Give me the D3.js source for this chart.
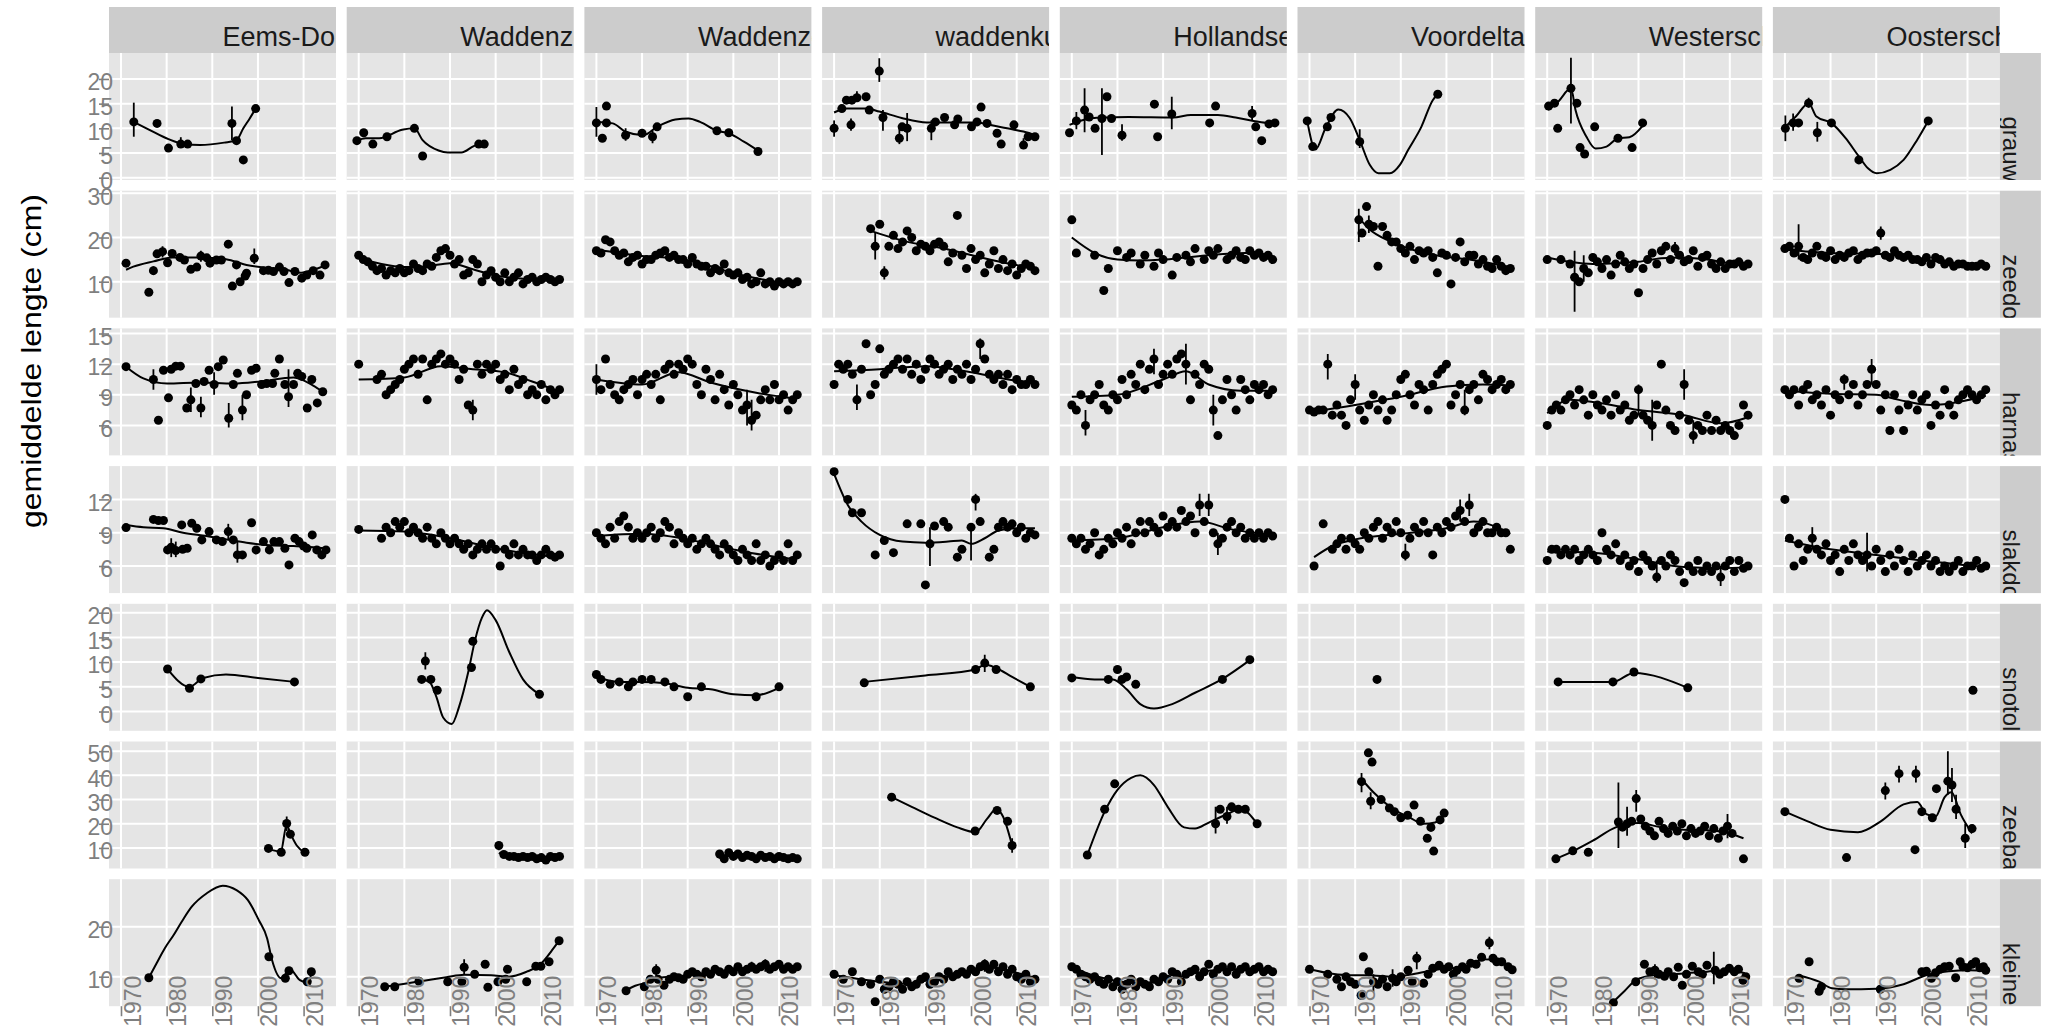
<!DOCTYPE html>
<html>
<head>
<meta charset="utf-8">
<script src="https://cdn.jsdelivr.net/npm/d3@7"></script>
<style>
body { margin: 0; background: #fff; }
text { font-family: "Liberation Sans", Arial, sans-serif; }
</style>
</head>
<body>
<script>

var regions = ["Eems-Dollard", "Waddenzee west", "Waddenzee oost", "waddenkust", "Hollandse kust", "Voordelta", "Westerschelde", "Oosterschelde"];
var species = ["grauwe poon", "zeedonderpad", "harnasmannetje", "slakdolf", "snotolf", "zeebaars", "kleine pieterman"];
var xTicks = [1970, 1980, 1990, 2000, 2010];
var xDomain = [1967.37, 2017.1];
var yTicks = [[0,5,10,15,20], [10,20,30], [6,9,12,15], [6,9,12], [0,5,10,15,20], [10,20,30,40,50], [10,20]];
var yDomains = [[-0.47,25.26], [1.85,30.6], [3.06,15.5], [3.56,15.0], [-3.9,21.8], [1.5,54], [4.1,29.5]];

// one value per year from start, null = no survey that year
function yearly(start, vals) {
    return vals.map(function(v, i) { return [start + i, v]; })
               .filter(function(d) { return d[1] !== null; });
}

// ---- grauwe poon
var grauwPts = [
 [[1972.8,11.3],[1977.9,11],[1980.4,6],[1983.1,6.8],[1984.6,6.8],[1994.3,11],[1995.3,7.5],[1996.8,3.6],[1999.5,14]],
 [[1969.6,7.5],[1971.1,9.1],[1973.1,6.8],[1976.2,8.3],[1982.2,10],[1984,4.4],[1996.3,6.8],[1997.5,6.8]],
 [[1970,11.1],[1971.3,8],[1972.2,14.5],[1972.2,11.1],[1976.4,8.6],[1980,9],[1982.3,8.3],[1983.3,10.3],[1996.4,9.5],[1999,9.1],[2005.4,5.3]],
 [[1970,10],[1971.7,14],[1972.7,15.7],[1973.7,10.7],[1973.9,15.7],[1975,16.2],[1977,16.4],[1977.7,13.7],[1979.9,21.6],[1980.7,12.2],[1984.3,8],[1984.9,10.3],[1986,10],[1991.3,10],[1992.2,11.3],[1994.2,12.2],[1996.4,10.7],[1997.1,11.9],[2000.1,10.3],[2001.3,11.3],[2002.2,14.3],[2003.5,11],[2005.7,9],[2006.6,6.8],[2009.4,10.7],[2011.5,6.6],[2012.5,8.3],[2014,8.3]],
 [[1969.5,9.1],[1971,11.5],[1972.8,13.7],[1973.8,12.3],[1975.1,10],[1976.6,12],[1977.7,16.4],[1978.7,12],[1981,8.6],[1988.1,14.9],[1988.8,8.3],[1991.9,12.9],[2000.2,11.1],[2001.5,14.5],[2009.5,13],[2010.3,10.3],[2011.6,7.5],[2013.2,10.9],[2014.5,11.1]],
 [[1969.5,11.5],[1970.7,6.3],[1973.9,10.3],[1974.7,12.2],[1981,7.3],[1998.1,16.9]],
 [[1970.3,14.5],[1971.6,15.1],[1972.3,10],[1975.2,18.1],[1976.5,15.1],[1977.2,6.1],[1978.2,4.8],[1980.4,10.3],[1985.5,8],[1988.6,6.1],[1990.9,11.1]],
 [[1970.1,10],[1971.8,11.1],[1973,11.1],[1975.2,15.1],[1977.1,9.1],[1980.2,11.1],[1986.2,3.6],[2001.4,11.5]]
];
var grauwErr = [
 [[1972.8,8.3,15.2],[1983.1,6.5,8.2],[1994.3,7.6,14.4]],
 [],
 [[1970,8.3,14.3],[1976.4,7.5,10],[1982.3,7,9.5]],
 [[1970,8.3,11.6],[1973.7,9.5,12],[1975,15.5,17.5],[1979.9,19.4,24.2],[1980.7,9.5,13.7],[1984.3,6.8,10],[1986,7.4,13.1],[1991.3,7.6,11.6],[2011.5,5.8,8]],
 [[1971,9.8,13.3],[1972.8,9.2,18.1],[1976.6,4.6,18.1],[1981,7.5,10.8],[1991.9,9.8,16.4],[2009.5,11.5,14.5]],
 [[1981,6,9.8]],
 [[1975.2,11,24.3]],
 [[1970.1,7.4,12.6],[1971.8,9.5,13],[1975.2,14.2,16.2],[1977.1,7.3,11.3]]
];
var grauwFit = [
 [[1972.8,11.3],[1976,9.8],[1980.4,7.8],[1983.8,6.8],[1987.3,6.6],[1992.6,7.1],[1995.3,7.6],[1996.8,10],[1998.2,12],[1999.5,14]],
 [[1969.6,7.5],[1971.5,8],[1974.5,8],[1979.5,9.7],[1982.2,10],[1984,7.6],[1987.5,5.5],[1989.5,5.1],[1992.5,5.1],[1995.2,6.4],[1997.5,7.2]],
 [[1970,11.3],[1973.6,11],[1976.4,9.3],[1980.3,8.6],[1983.3,10.3],[1987.3,11.8],[1990.2,12],[1992.7,11.3],[1996.4,9.5],[1999,9],[2002.3,7.3],[2005.4,5.5]],
 [[1970,13.2],[1972.8,14],[1977,14],[1979.9,13.4],[1984.8,12.1],[1990.3,11.2],[1995.8,11.2],[2001.2,11.2],[2005.1,10.5],[2009,9.8],[2012.5,9.1],[2014,8.6]],
 [[1969.5,10.7],[1972.5,11.7],[1976.6,12.2],[1982.4,12.3],[1992.2,12.2],[1996.1,12.7],[2002,12.7],[2005.9,12.2],[2009.8,11.5],[2014.5,10.9]],
 [[1969.5,11.5],[1971.3,5.7],[1973.5,10],[1976.3,13.8],[1978.8,12.1],[1981,7.6],[1983.2,2.6],[1985.1,0.9],[1987.6,0.9],[1989.8,2.6],[1991.6,5.6],[1994.5,10.3],[1997,15.7],[1998.1,16.9]],
 [[1970.2,13.7],[1972.5,15.5],[1975.2,18.1],[1976.2,13.7],[1978.6,8.3],[1980.6,5.9],[1983,6.3],[1985.5,8],[1988,8.2],[1990.9,10.5]],
 [[1970.1,10.3],[1972.5,12.5],[1975.2,15.1],[1976.9,12.4],[1980.3,11],[1983.3,8],[1986.2,4.3],[1988.2,1.9],[1990.1,0.9],[1993.1,1.6],[1996,3.6],[1999,7.7],[2001.4,11.5]]
];

// ---- zeedonderpad
var zeedoPts = [
 [[1971.1,14.2],[1976.1,7.6],[1977.1,12.5],[1977.9,16.3],[1979.1,16.8],[1980.2,14.3],[1981.2,16.4],[1982.9,15.5],[1983.9,14.9],[1985.3,12.8],[1986.6,13.3],[1987.5,15.8],[1988.8,15.4],[1989.5,14.2],[1990.9,14.9],[1992,14.9],[1993.5,18.5],[1994.4,9],[1995.3,13.8],[1996.1,10],[1997.2,11.3],[1997.5,11.9],[1999.2,15.3],[2001.2,12.5],[2002.3,12.6],[2003.4,12.3],[2004.7,13.3],[2005.7,12.3],[2006.8,9.8],[2008.1,12.3],[2009.6,10.8],[2010.7,11.5],[2012.1,12.5],[2013.6,11.5],[2014.7,13.8]],
 yearly(1970, [16,15,14.5,13.5,12.5,13,11.5,12.5,12,13, 12,12.5,14,13,12.5,14,13.5,15.5,17,17.5, 16,14,15,11.5,12,15,14,10,11.5,12.5, 11,10,12,10,11,12,9.5,10.5,11,10, 10.5,11,10.5,10,10.5]),
 yearly(1970, [17,16.5,19.5,19,17,16,16.5,14.5,15.5,16, 14,15,15,16,16.5,17,15.5,16,15,15, 14,15.5,14,13.5,13.5,12,13,12.5,14,12, 11.5,12,10.5,11,9.5,10,12,9.5,10,9, 10,9.5,10,9.5,10]),
 yearly(1978, [22,18,23,12,18,20.5,17.5,19,21.5,20, 17,18.5,18,17,18.5,19,18,14.5,16.5,25, 16,13,17.5,15,16,12,14,17,13,15, 12.5,14,11.5,13,14,13.5,12.5]),
 [[1970,24],[1971,16.5],[1975,16],[1977,8],[1978,13],[1980,17],[1982,15.5],[1983,16.5],[1985,14],[1986,16],[1988,13.5],[1989,16.5],[1990,15],[1992,11.5],[1993,15.5],[1995,16],[1996,14.5],[1997,17.5],[1999,15],[2000,17],[2001,16],[2002,17.5],[2004,15],[2005,16],[2006,17],[2007,15.5],[2008,15],[2009,17],[2010,16],[2011,16.5],[2012,15.5],[2013,16],[2014,15]],
 [[1980.8,24],[1981.5,21],[1982.5,27],[1983,23],[1984,22.5],[1985,13.5],[1986,22.5],[1987,20.5],[1988,19],[1989,19],[1990,17.5],[1991,16.5],[1992,18],[1993,15],[1994,17],[1995,16.5],[1996,17],[1997,15.5],[1998,12],[1999,16.5],[2000,16],[2001,9.5],[2002,15.5],[2003,19],[2004,14.5],[2005,16],[2006,16],[2007,14],[2008,15],[2009,13.5],[2010,13],[2011,15],[2012,13.5],[2013,12.5],[2014,13]],
 yearly(1970, [15,null,null,15,null,14,11,10,13,12, 15.5,14.5,13,15,11.5,14,16,14.5,13,14, 7.5,13,15,16.5,14,17,18,15,17.5,16, 14.5,15,17,13.5,15.5,16,14,13,14.5,13, 14,14,14.5,13.5,14]),
 yearly(1970, [17.5,18,16.5,18,15.5,15,16.5,18,16,15.5, 17,15,16,15.5,16.5,17,15,16,16.5,16.5, 17,21,16,15.5,17,16,15.5,16,15,15, 14.5,15.5,14,15.5,15,14,14.5,13.5,14,14, 13.5,13.5,13.5,14,13.5])
];
var zeedoErr = [
 [[1999.2,14,17.5],[1979.1,15.5,18],[1987.5,14.5,17],[1977.1,11.5,13.5]],
 [],
 [],
 [[1979,15,21],[1981,10.5,13.5]],
 [],
 [[1980.8,19,26.5],[1983,21,25]],
 [[1976,3.2,17],[1978,10,16],[1998,16,19]],
 [[1973,15,23],[1991,19.5,22.5]]
];
var zeedoFit = [
 [[1971.1,12.7],[1972.7,13.4],[1977.1,14.6],[1981.2,15.5],[1987.2,15.5],[1993,15.1],[1997.5,13.8],[2001.9,13.1],[2006.2,12.7],[2009.2,12],[2012.1,12.7],[2014.7,13.6]],
 [[1970,15.5],[1975,14],[1980,13.3],[1985,13.5],[1990,14.2],[1995,12.8],[2000,11.4],[2005,10.8],[2010,10.4],[2014,10.5]],
 [[1970,17.3],[1975,16.5],[1980,15.8],[1985,15.5],[1990,14.8],[1995,13.5],[2000,12],[2005,10.8],[2010,9.9],[2014,9.6]],
 [[1978,21.5],[1985,19.3],[1995,17.3],[2005,14.8],[2014,13]],
 [[1970,20],[1975,16.5],[1980,15],[1985,14.8],[1990,15],[1995,15.5],[2000,16],[2008,16.5],[2014,15.8]],
 [[1980.8,24.5],[1983,22],[1988,19],[1995,16.5],[2005,15],[2014,13.3]],
 [[1970,15.5],[1975,14.5],[1980,14],[1985,14.2],[1990,14.5],[1995,15.3],[2000,15.5],[2005,15],[2010,14.2],[2014,14]],
 [[1970,17.3],[1980,16.5],[1990,16.3],[2000,15],[2008,14],[2014,13.5]]
];

// ---- harnasmannetje
var harnasPts = [
 [[1971.1,11.75],[1977.1,10.5],[1978.2,6.5],[1979.3,11.4],[1980.4,8.7],[1981,11.5],[1982,11.8],[1983,11.8],[1984.4,7.7],[1985.3,8.5],[1986.4,10.1],[1987.5,7.7],[1988.2,10.3],[1989.3,11.4],[1990.4,10],[1991.3,11.75],[1992.4,12.4],[1993.6,6.7],[1994.6,10],[1995.5,11.1],[1996.6,7.5],[1997.5,9],[1998.6,11.4],[1999.6,11.6],[2000.8,10],[2001.9,10.1],[2003.2,10.1],[2003.7,11.1],[2004.7,12.5],[2005.9,10],[2006.7,8.8],[2007.8,10],[2008.7,11.1],[2009.6,10.8],[2010.8,7.7],[2011.8,10.5],[2013,8.2],[2014.2,9.3]],
 yearly(1970, [12,null,null,null,10.5,11,9,9.5,10,10.5, 11.5,12,12.5,11,12.5,8.5,12,12.5,13,12, 12.5,12,10.5,11.5,8,7.5,12,11,12,11.5, 12,10.5,11,9.5,11.5,10,10.5,9,9.5,9, 10,8.5,9.5,9,9.5]),
 yearly(1970, [10.5,9.5,12.5,10,9,8.5,9.5,10,10.5,9, 10.5,11,10,11,8.5,11.5,12,11,12,11.5, 12.5,12,10,9,11.5,10.5,8.5,11,9.5,8, 10,9,7.5,8,6.5,7,8.5,9.5,8.5,10, 8.5,9,7.5,8.5,9]),
 yearly(1970, [10,12,11.5,12,11,8.5,11.5,14,9,10, 13.5,11,11.5,12,12.5,11.5,12.5,11,12,10.5, 11.5,12.5,12,11,11.5,12,10.5,11.5,11,12, 10.5,11.5,14,12.5,11,10.5,11,10,11,9.5, 10.5,10,10,10.5,10]),
 yearly(1970, [8,7.5,9,6,8.5,9,10,8,7.5,9, 8.5,10.5,9,11,10,12,9.5,11.5,12.5,10, 11,12,11,12.5,13,12,8.5,11,10,12, 11.5,7.5,5,8.5,10.5,9,7.5,10.5,9.5,8.5, 10,9.5,10,9,9.5]),
 yearly(1970, [7.5,7.3,7.5,7.5,12,7,8,7,6,8.5, 10,7.5,6.5,8,9,7.5,8.5,6.5,7.5,9, 10.5,11,9,8,10,9.5,7.5,10,11,11.5, 12,8,9,10,7.5,9.5,10,8.5,11,10.5, 9.5,10,10.5,9.5,10]),
 yearly(1970, [6,7.5,8,7.5,8.5,9,8,9.5,8.5,7, 9,8,7.5,8.5,7,9,7.5,8,6.5,7, 9.5,7,6.5,6,8,12,7.5,6,5.5,7, 10,6.5,5,6,5.5,7,5.5,6.5,5.5,6, 5.5,5,6,8,7]),
 yearly(1970, [9.5,9,9.5,8,9.5,10,8.5,9,8,9.5, 7,9,8.5,10.5,9,10,8,9,10,11.5, 10,7.5,9,5.5,9,7.5,5.5,8,9,7.5, 8.5,9,6,8,7,9.5,8,7,8.5,9, 9.5,9,8.5,9,9.5])
];
var harnasErr = [
 [[1977.1,9.5,11.5],[1985.3,7.3,9.7],[1987.5,6.8,8.8],[1993.6,5.8,8.2],[1996.6,6.5,9],[2006.7,7.8,11.5],[1990.4,9,11.2]],
 [[1995,6.5,8.5]],
 [[1970,9,12],[2004,5.5,8.5],[2003,6,9.5]],
 [[1975,7.5,10],[2002,12.5,14.5]],
 [[1973,5,7.5],[1995,10,14],[2001,6,9],[1988,11,13.5]],
 [[1974,10.5,13],[1980,8.5,11],[2004,7,9.5]],
 [[1990,7,10],[1993,4.5,8.5],[2002,4.2,6.5],[2000,8.5,11.5]],
 [[1989,10,12.5],[1983,9.5,11]]
];
var harnasFit = [
 [[1971.1,11.75],[1974.9,10.6],[1980.1,10.1],[1987.2,10.2],[1994.6,10.1],[2000.5,10.3],[2007.8,10.7],[2012.1,9.9],[2014.2,9.3]],
 [[1970,10.5],[1980,10.7],[1988,11.8],[1995,11.5],[2002,11.2],[2008,10.3],[2014,9.3]],
 [[1970,10.5],[1980,10],[1988,11.2],[1995,10.2],[2005,9.2],[2014,8.6]],
 [[1970,11.3],[1980,11.5],[1990,11.8],[2000,11.2],[2007,10.6],[2014,10.1]],
 [[1970,8.8],[1980,9],[1990,10.5],[1995,11.3],[2000,10],[2007,9.4],[2014,9.4]],
 [[1970,7.3],[1980,8],[1990,8.8],[2000,9.8],[2008,10],[2014,9.9]],
 [[1970,7.2],[1975,8.5],[1980,8.3],[1990,7.5],[2000,7],[2008,6.2],[2014,6.8]],
 [[1970,9.4],[1980,9.1],[1990,9],[1995,8.5],[2002,8],[2014,8.9]]
];

// ---- slakdolf
var slakdoPts = [
 [[1971.1,9.46],[1977.1,10.2],[1978.2,10.1],[1979.3,10.1],[1980.2,7.45],[1981,7.7],[1982,7.4],[1983.3,9.7],[1983.5,7.5],[1984.5,7.6],[1985.5,9.85],[1986.6,9.4],[1987.7,8.35],[1989.3,9.1],[1990.9,8.35],[1992.2,8.2],[1993.5,9.1],[1994.6,8.35],[1995.5,7],[1996.6,7],[1998.6,9.9],[1999.6,7.45],[2001.2,8.2],[2002.5,7.45],[2003.5,8.2],[2004.7,8.2],[2005.9,7.6],[2006.8,6.1],[2008.1,8.5],[2009,8.2],[2010,7.8],[2010.7,7.6],[2011.9,8.8],[2012.9,7.45],[2014,7],[2014.9,7.45]],
 yearly(1970, [9.3,null,null,null,null,8.5,9.5,9,10,9.5, 10,9,9.5,9,8.5,9.5,8.5,8,9,8.5, 8,8.5,8,7.5,8,7,7.5,8,7.5,8, 7.5,6,7.5,7,8,7,7.5,7,7,6.5, 7,7.5,7,6.8,7]),
 yearly(1970, [9,8.5,8,9.5,8.5,10,10.5,9.5,8.5,9, 8.5,9,9.5,8.5,9,10,9.5,8,9,8.5, 8,8.5,7.5,8,8.5,8,7.5,7,8,7.5, 7,6.5,7.5,7,6.5,8,6.5,7,6,6.5, 7,6.5,8,6.5,7]),
 [[1970,14.5],[1973,12],[1974,10.8],[1976,10.8],[1979,7],[1981,8.3],[1983,7.2],[1986,9.8],[1989,9.8],[1990,4.3],[1991,8],[1992,9.6],[1994,10],[1995,9.5],[1997,6.8],[1998,7.5],[2000,9.5],[2001,12],[2002,10],[2004,6.8],[2005,7.5],[2006,9.5],[2007,10],[2008,9.5],[2009,9.8],[2010,9],[2011,9.5],[2012,8.5],[2013,9],[2014,8.8]],
 yearly(1970, [8.5,8,8.5,7.5,8,9,7,7.5,8.5,8, 9,8.5,9.5,8,9,10,9,10,9.5,9, 10.5,9.5,10,9.5,11,10,10.5,9,11.5,10, 11.5,9,8,8.5,9.5,10,9,9.5,8.5,9, 8.5,9,8.5,9,8.7]),
 yearly(1971, [6,null,9.8,null,7.5,8,8.5,7.5,8.5,8, 7.5,9,8.5,9.5,10,8.5,9.5,9,10,9, 7,8.5,9.5,9,10,9,7,9.5,9,10, 9.5,10.5,11,10,11.5,9,9.5,10,9,9, 9.5,9,9,7.5]),
 yearly(1970, [6.5,7.5,7.5,7,7.5,7,7.5,6.5,7,7.5, 7,6.5,9,7.5,7,8,6.5,7,6,6.5, 5.5,7,6.5,6,5,6.5,6,7,6.5,5.5, 4.5,6,5.5,6.5,5.5,6,5.5,6,5,6, 6.5,5.5,6.5,5.8,6]),
 yearly(1970, [12,8.5,6,8,6.5,7.5,8.5,7.5,7,8, 6.5,7,5.5,7.5,6.5,8,7,6.5,7,6, 7.5,6.5,5.5,7,6,7.5,6.5,5.5,7,6, 6.5,7,6,6.5,5.5,6,5.5,6,6.5,5.5, 6,6,6.5,5.8,6])
];
var slakdoErr = [
 [[1981,6.8,8.5],[1982,6.8,8.2],[1995.5,6.3,8.2],[1993.5,8.3,9.8]],
 [],
 [],
 [[1991,6,9.5],[2001,11,12.5],[2000,6.5,9.5]],
 [[1998,10.5,12.5],[2000,10.5,12.5],[2002,7,9]],
 [[2005,10.5,12.5],[2003,10,12],[1991,6.5,8]],
 [[1994,4.5,6.5],[2008,4.2,6]],
 [[1988,5.5,9],[1976,7.5,9.5]]
];
var slakdoFit = [
 [[1971.1,9.7],[1974.9,9.5],[1979.3,9.4],[1983.6,9],[1988.7,8.7],[1993.1,8.4],[1997.5,8.1],[2001.9,7.9],[2007.8,7.8],[2012.1,7.7],[2014.9,7.6]],
 [[1970,9.2],[1980,9.1],[1990,8.5],[2000,7.6],[2007,7.1],[2014,6.8]],
 [[1970,8.7],[1980,8.9],[1990,8.4],[2000,7.5],[2008,6.9],[2014,6.6]],
 [[1970,14.3],[1973,11.5],[1976,10],[1980,8.8],[1985,8.2],[1990,8.1],[1995,8.2],[1998,8.3],[2000,8],[2003,8.5],[2006,9.2],[2010,9.4],[2014,9.4]],
 [[1970,8.3],[1980,8.5],[1990,9.5],[1998,10],[2005,9.3],[2014,8.8]],
 [[1971,6.8],[1975,7.8],[1980,8.4],[1990,8.9],[2000,9.4],[2006,10],[2014,8.9]],
 [[1970,7.3],[1980,7.2],[1990,6.6],[2000,5.9],[2008,5.8],[2014,5.9]],
 [[1970,8.3],[1980,7.5],[1990,7],[2000,6.5],[2014,5.9]]
];

// ---- snotolf
var snotolfPts = [
 [[1980.2,8.6],[1985,4.7],[1987.5,6.6],[2008,6]],
 [[1983.8,6.5],[1984.6,10.2],[1985.8,6.5],[1987.2,4.3],[1994.7,8.9],[1995,14.2],[2009.6,3.5]],
 [[1970,7.5],[1971,6.5],[1973,5.5],[1975,6],[1977,5],[1978,6],[1980,6.5],[1982,6.5],[1985,6],[1987,5],[1990,3],[1993,5],[2005,3],[2010,5]],
 [[1976.6,5.8],[2001,8.5],[2003,9.8],[2005.5,8.5],[2013,5]],
 [[1970,6.8],[1978,6.5],[1980,8.5],[1981,6.5],[1982,7],[1984,5.5],[2003,6.5],[2009,10.5]],
 [[1984.8,6.5]],
 [[1972.4,6],[1984.4,6],[1989,8],[2000.8,4.8]],
 [[2011.2,4.3]]
];
var snotolfErr = [[], [[1984.6,8.5,12]], [], [[2003,8,11.5]], [], [], [], []];
var snotolfFit = [
 [[1980.2,8.6],[1985,5],[1988,6.8],[1993,7.5],[2000,6.8],[2008,6]],
 [[1983.8,6.5],[1985.5,6],[1987,3],[1988.5,-1.2],[1990.4,-2.5],[1992,1],[1994,8],[1995.5,14.5],[1997,19],[1998.1,20.5],[2000,18.5],[2003,12],[2006,6.5],[2009.6,3.5]],
 [[1970,7],[1975,6],[1980,6],[1985,5.7],[1990,4.8],[1995,4.5],[2000,3.5],[2005,3.3],[2010,4.8]],
 [[1976.6,6],[1990,7.3],[2001,8.5],[2003,9.5],[2005.5,8.8],[2009,7],[2013,5]],
 [[1970,7],[1975,6.5],[1979,6.5],[1982,4.5],[1985,1.5],[1988,0.6],[1992,1.5],[1997,3.8],[2003,6.6],[2009,10.4]],
 [],
 [[1972.4,6],[1984.4,6],[1989,7.8],[2000.8,4.8]],
 []
];

// ---- zeebaars
var zeebaPts = [
 [[2002.3,9.8],[2005.1,8.2],[2006.3,20.1],[2007.1,15.7],[2010.3,8.2]],
 [[2000.7,11],[2001.8,7.3],[2003,6.5],[2004,6.5],[2005,6],[2006,6.5],[2007,6],[2008,6.5],[2009,5.5],[2010,6],[2011,5],[2012,6.5],[2013,6],[2014,6.5]],
 [[1997,7.5],[1998,5.5],[1999,8],[2000,6.5],[2001,7.5],[2002,6],[2003,7],[2004,6.5],[2005,5.5],[2006,7],[2007,6],[2008,6.5],[2009,5.5],[2010,6.5],[2011,6],[2012,5.5],[2013,6],[2014,5.5]],
 [[1982.6,31],[2000.9,17],[2005.7,25.5],[2008,21],[2009,11]],
 [[1973.4,7.1],[1977.2,26],[1979.4,36.5],[2001.5,20],[2002.5,26],[2004,23],[2005,27],[2006.5,26],[2008,26],[2010.6,20]],
 [[1981.4,37.4],[1982.9,49.3],[1983.7,45.5],[1983.4,29.3],[1985.7,30],[1987.5,26.5],[1988.6,25],[1990,22.5],[1991.5,23.5],[1992.9,27.7],[1994.3,21],[1995.8,14],[1996.6,18.5],[1997.2,8.7],[1998.6,21.6],[1999.5,24.4]],
 [[1971.9,5.5],[1975.6,8.8],[1979,8.2],[1985.6,20.7],[1986.5,18.6],[1987.5,20],[1988.5,21],[1989.5,30.4],[1990.5,22],[1991.5,19],[1992.5,17],[1993.5,15],[1994.5,21],[1995.5,18],[1996.5,16],[1997.5,19],[1998.5,17],[1999.5,20],[2000.5,15],[2001.5,18],[2002.5,16],[2003.5,17],[2004.5,19],[2005.5,15],[2006.5,18],[2007.5,14],[2008.5,17],[2009.5,19],[2010.5,16],[2013,5.5]],
 [[1970,25],[1983.5,6],[1992,33.7],[1995,40.7],[1998.5,9.3],[1998.7,40.7],[2000,25],[2002.3,22.5],[2003.2,34.5],[2005.7,37.6],[2006.6,36],[2007.5,26],[2009.5,14],[2011,18]]
];
var zeebaErr = [
 [[2006.3,17,23]],
 [[2000.7,9,12.5],[2011,3.8,6.5]],
 [[1997,5.5,9]],
 [[2009,8,14]],
 [[2001.5,16,27],[2004,20,27]],
 [[1981.4,33,41],[1983.4,26,33]],
 [[1985.6,10,37],[1989.5,25,34],[1987.5,15,27],[2009.5,14,24]],
 [[1992,30,37],[1995,37,44],[1998.7,37,44],[2005.7,32,50],[2006.6,29,43],[2007.5,22,32],[2009.5,10,20]]
];
var zeebaFit = [
 [[2002.3,9.5],[2005,8.5],[2006.3,19.5],[2007.1,16],[2008.5,11],[2010.3,8]],
 [[2000.7,8],[2002,7],[2006,6.3],[2010,6],[2014,6.2]],
 [[1997,7],[2005,6.3],[2014,5.8]],
 [[1982.6,31],[1987,27],[1992,22.5],[1997,18.5],[2001,16.5],[2003.5,22],[2005.5,26],[2007,23],[2009,11]],
 [[1973.4,7],[1977.2,25],[1980,34],[1983,39],[1985,40],[1988,36],[1991,27],[1994.6,18.5],[1997,18],[2000,20.5],[2003.5,23.5],[2007,26],[2010.6,20]],
 [[1981.4,38.5],[1984,33],[1988,26.5],[1992,22.5],[1995,20],[1997.5,20.5],[1999.5,23.5]],
 [[1971.9,5.5],[1976,9],[1980,13],[1985,18.5],[1990,20.3],[1995,18.5],[2000,17.5],[2005,17.3],[2010,16],[2013,14]],
 [[1970,25],[1975,21],[1980,17.5],[1986,16.5],[1991,21],[1996,28],[1999,29],[2001,24],[2003,23],[2005,31],[2006.5,33],[2008.5,24],[2011,16]]
];

// ---- kleine pieterman
var kleinePts = [
 [[1976.1,9.8],[2002.4,14],[2006,9.7],[2006.8,11.2],[2010.8,9],[2011.7,11]],
 [[1975.7,8],[1977.9,8],[1983.2,9.1],[1989.5,9],[1992.6,9],[1993.1,11.9],[1995.4,10.5],[1997.7,12.5],[1998.3,7.9],[2000.5,9],[2002.2,9.5],[2002.6,11.5],[2006.8,9],[2008.8,12.1],[2009.9,12.1],[2011.7,13],[2013.9,17.2]],
 [[1976.5,7.2],[1980.5,8],[1981.8,9.5],[1983.1,11.3],[1983.5,9.5],[1984.8,8.3],[1986,9.5],[1987,10],[1988,9.8],[1989,9.5],[1990,10.5],[1991,11],[1992,10.5],[1993,10],[1994,11],[1995,10.5],[1996,11.5],[1997,11],[1998,10.5],[1999,11.5],[2000,11],[2001,12],[2002,11],[2003,11.5],[2004,12],[2005,11.5],[2006,12],[2007,12.5],[2008,11.5],[2009,12],[2010,12.5],[2011,11.5],[2012,12],[2013,11.5],[2014,12]],
 yearly(1970, [10.5,null,9.5,null,11,null,9,null,8.5,5, 9.5,7.5,8,9,8.5,7.5,9,8,8.5,9.5, 10,8.5,9,10,9.5,11,10,10.5,11,10.5, 11.5,11,12,12.5,11.5,12.5,11,12,10.5,11.5, 10,9.5,10.5,9,9.5]),
 yearly(1970, [12,11.5,10.5,10,9.5,10,9,8.5,9.5,8, 9,7.5,8.5,9.5,8,9,8.5,8,9.5,9, 10,9.5,11,10.5,9,10.5,11,11.5,10,11, 12.5,10.5,11.5,12,11,12,10.5,11.5,12,11, 11.5,12,11,11.5,11]),
 [[1970,11.5],[1974,10.5],[1976,9.5],[1977,8],[1978,10],[1979,9],[1980,8.5],[1981.3,6.3],[1981.8,14],[1983,11],[1984,9],[1985,8.5],[1986,9.5],[1987,8],[1988.2,9.7],[1989,9],[1990,10],[1991.6,11.3],[1992.5,9],[1993.5,13.7],[1995,8.7],[1996,10.5],[1997,11.7],[1998.4,12.3],[1999.5,11.5],[2000.5,12],[2001.5,10.5],[2002.3,11.3],[2003.5,12],[2004.3,11.5],[2005.3,12.7],[2006.5,12.5],[2007.7,13.9],[2009.4,16.8],[2010.2,13.7],[2011,13],[2012.1,13],[2013.5,12],[2014.4,11.4]],
 [[1984.5,4.8],[1989.4,9],[1991.3,12.5],[1992.5,11],[1993.6,11.3],[1994.5,10.5],[1995.7,10.1],[1996.5,11],[1997.7,10],[1998.7,11.9],[1999.6,8.3],[2000.5,10.5],[2001.8,12.1],[2003.1,11],[2004,10.5],[2005,12.3],[2006.8,11.3],[2007.8,10.5],[2008.8,11],[2009.9,11.7],[2011,11],[2011.9,11.5],[2012.9,9.3],[2013.5,10]],
 [[1973.1,9.7],[1975.3,13],[1977.5,7.1],[1978,8],[1990.9,7.5],[2000,11],[2001,11.1],[2002.1,9.7],[2003,10.8],[2004,11.5],[2005,12],[2006,12.1],[2007.4,9.8],[2008.4,13],[2009,12],[2010,11.8],[2011,12.5],[2011.8,13],[2012.7,11.8],[2013.5,12],[2014,11.3]]
];
var kleineErr = [
 [],
 [[1993.1,10.5,13.5]],
 [[1983.1,9.5,12.5],[2004,11,13],[2007,11,13.5]],
 [[2003,11,13.5]],
 [],
 [[1988.2,8,11.5],[1993.5,11.5,15],[2009.4,15.5,18],[1984,7,10.5]],
 [[2006.5,8.5,15],[1993.6,9.5,12.5]],
 []
];
var kleineFit = [
 [[1976.1,9.8],[1977.8,12.7],[1979.6,15.7],[1981.5,18.3],[1983.3,21],[1985.5,24],[1988.8,26.7],[1992.3,28.2],[1995.3,27.3],[1997.8,25.3],[2000.2,21.3],[2002,17.7],[2003.1,13.3],[2005.1,9.7],[2007,11.5],[2009.2,9.3],[2010.9,8.8],[2011.7,10.5]],
 [[1975.7,8],[1979.4,8.5],[1984.3,9.2],[1989.2,9.9],[1993.1,10.4],[1999,10.3],[2002.9,10],[2006.8,11],[2009.6,12.3],[2012.7,15.7],[2013.9,17.2]],
 [[1976.5,7.3],[1978.5,8.2],[1981,8.8],[1984,9.8],[1990,10.2],[1995,10.8],[2000,11.5],[2005,12],[2010,12.2],[2014,12]],
 [[1970,10.3],[1975,9.6],[1980,9],[1985,8.6],[1990,9.2],[1995,10],[2000,11],[2005,11.8],[2010,10.8],[2014,9.8]],
 [[1970,11.8],[1975,10.2],[1980,9.1],[1985,8.7],[1990,9.4],[1995,10.3],[2000,11.2],[2005,11.5],[2010,11.5],[2014,11.3]],
 [[1970,11.5],[1975,10.6],[1979,10.3],[1982.8,10.3],[1988.2,10],[1992.6,10.5],[1998.4,11.5],[2004.3,12],[2008.2,13.5],[2011.1,13.2],[2014.4,11.7]],
 [[1984.5,5],[1987,7.2],[1989.4,9.3],[1993.3,10.3],[1999.2,10.6],[2005,11],[2009.9,11.3],[2013.3,10.7]],
 [[1973,10.3],[1977.5,9],[1980.3,7.7],[1983.3,7.5],[1990.1,7.6],[1996,8.5],[2000.9,10.3],[2005.9,11.1],[2010.5,11.3],[2014.3,11.1]]
];

var allPts = [grauwPts, zeedoPts, harnasPts, slakdoPts, snotolfPts, zeebaPts, kleinePts];
var allErr = [grauwErr, zeedoErr, harnasErr, slakdoErr, snotolfErr, zeebaErr, kleineErr];
var allFit = [grauwFit, zeedoFit, harnasFit, slakdoFit, snotolfFit, zeebaFit, kleineFit];

// ---- layout
var left0 = 109, top0 = 53, pw = 227, ph = 127, gap = 10.7;
var stripH = 46, stripW = 41;
var fontFam = "Liberation Sans, Arial, sans-serif";

var svg = d3.select("body").append("svg")
    .attr("width", 2053)
    .attr("height", 1032);

var defs = svg.append("defs");
defs.append("clipPath").attr("id", "clipPanel")
    .append("rect").attr("width", pw).attr("height", ph);
defs.append("clipPath").attr("id", "clipTop")
    .append("rect").attr("y", -stripH).attr("width", pw).attr("height", stripH);
defs.append("clipPath").attr("id", "clipRight")
    .append("rect").attr("x", pw).attr("width", stripW).attr("height", ph);

var x = d3.scaleLinear().domain(xDomain).range([0, pw]);

species.forEach(function(sp, r) {
    var y = d3.scaleLinear().domain(yDomains[r]).range([ph, 0]);
    var line = d3.line()
        .x(function(d) { return x(d[0]); })
        .y(function(d) { return y(d[1]); })
        .curve(d3.curveMonotoneX);

    regions.forEach(function(reg, c) {
        var g = svg.append("g")
            .attr("transform", "translate(" + (left0 + c * (pw + gap)) + "," + (top0 + r * (ph + gap)) + ")");

        g.append("rect").attr("width", pw).attr("height", ph).attr("fill", "#e5e5e5");

        g.selectAll(".gy").data(yTicks[r]).enter().append("line")
            .attr("x1", 0).attr("x2", pw)
            .attr("y1", function(d) { return y(d); })
            .attr("y2", function(d) { return y(d); })
            .attr("stroke", "#fff").attr("stroke-width", 2);
        g.selectAll(".gx").data(xTicks).enter().append("line")
            .attr("y1", 0).attr("y2", ph)
            .attr("x1", function(d) { return x(d); })
            .attr("x2", function(d) { return x(d); })
            .attr("stroke", "#fff").attr("stroke-width", 2);

        var marks = g.append("g").attr("clip-path", "url(#clipPanel)");

        marks.selectAll(".err").data(allErr[r][c]).enter().append("line")
            .attr("x1", function(d) { return x(d[0]); })
            .attr("x2", function(d) { return x(d[0]); })
            .attr("y1", function(d) { return y(d[1]); })
            .attr("y2", function(d) { return y(d[2]); })
            .attr("stroke", "#000").attr("stroke-width", 1.8);

        if (allFit[r][c].length > 1) {
            marks.append("path")
                .datum(allFit[r][c])
                .attr("d", line)
                .attr("fill", "none")
                .attr("stroke", "#000")
                .attr("stroke-width", 2);
        }

        marks.selectAll(".pt").data(allPts[r][c]).enter().append("circle")
            .attr("cx", function(d) { return x(d[0]); })
            .attr("cy", function(d) { return y(d[1]); })
            .attr("r", 4.5)
            .attr("fill", "#000");

        // left axis
        if (c === 0) {
            var ay = g.append("g")
                .call(d3.axisLeft(y).tickValues(yTicks[r]).tickSize(10).tickPadding(-14))
                .attr("font-family", fontFam).attr("font-size", 23);
            ay.select(".domain").remove();
            ay.selectAll("line").attr("stroke", "#7f7f7f").attr("stroke-width", 1.6);
            ay.selectAll("text").attr("fill", "#7f7f7f").attr("dy", "0.47em");
        }

        // bottom axis
        if (r === species.length - 1) {
            var ax = g.append("g")
                .attr("transform", "translate(0," + ph + ")")
                .call(d3.axisBottom(x).tickValues(xTicks).tickSize(10).tickFormat(d3.format("d")))
                .attr("font-family", fontFam).attr("font-size", 23);
            ax.select(".domain").remove();
            ax.selectAll("line").attr("stroke", "#7f7f7f").attr("stroke-width", 1.6);
            ax.selectAll("text")
                .attr("y", 0).attr("dy", null)
                .attr("transform", "translate(19,-5) rotate(-90)")
                .attr("text-anchor", "middle")
                .attr("fill", "#7f7f7f");
        }

        // top strip
        if (r === 0) {
            g.append("rect").attr("y", -stripH).attr("width", pw).attr("height", stripH).attr("fill", "#cccccc");
            g.append("g").attr("clip-path", "url(#clipTop)")
                .append("text")
                .attr("x", pw / 2).attr("y", -7)
                .attr("font-size", 27)
                .attr("fill", "#1a1a1a")
                .text(reg);
        }

        // right strip
        if (c === regions.length - 1) {
            g.append("rect").attr("x", pw).attr("width", stripW).attr("height", ph).attr("fill", "#cccccc");
            g.append("g").attr("clip-path", "url(#clipRight)")
                .append("text")
                .attr("transform", "translate(" + (pw + 3) + "," + (ph / 2) + ") rotate(90)")
                .attr("font-size", 24)
                .attr("fill", "#1a1a1a")
                .text(sp);
        }
    });
});

svg.append("text")
    .attr("transform", "translate(41,361) rotate(-90)")
    .attr("text-anchor", "middle")
    .attr("font-size", 28)
    .attr("textLength", 334)
    .attr("lengthAdjust", "spacingAndGlyphs")
    .attr("fill", "#000")
    .text("gemiddelde lengte (cm)");

</script>
</body>
</html>
